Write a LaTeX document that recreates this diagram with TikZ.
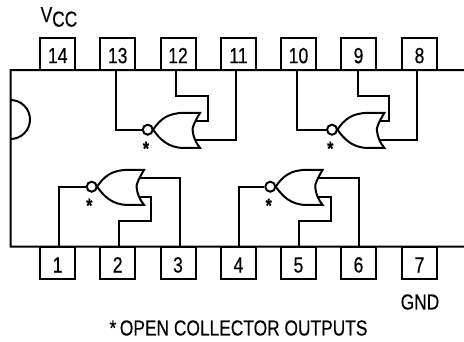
\documentclass[tikz,border=0pt]{standalone}
\usepackage{fontspec}
\setmainfont[FakeStretch=0.8,FakeBold=0.4]{Liberation Sans}
\usetikzlibrary{calc}
\tikzset{
  wire/.style={line width=2pt,line join=miter},
  pinbox/.style={draw,line width=2pt,fill=white,minimum width=35pt,minimum height=32pt,inner sep=0pt,text height=19pt,text depth=0pt,font=\fontsize{22}{22}\selectfont},
  bubble/.style={circle,draw,line width=2pt,minimum size=10pt,inner sep=0pt},
  star/.style={inner sep=0pt,font=\fontsize{20}{20}\bfseries\selectfont},
  caption/.style={inner sep=0pt,font=\fontsize{21.7}{22}\selectfont},
  norgate/.pic={
    \node[bubble] (-bub) at (0,0) {};
    \coordinate (-up) at (47,-9);
    \coordinate (-low) at (47,10.4);
    \draw[wire] (5.4,0) .. controls (12,-10) and (20,-16.8) .. (36,-16.8)
      -- (52.3,-16.8) .. controls (47,-8) and (44,-1) .. (45,1)
      .. controls (45.5,7) and (48,13) .. (52.3,18.2) -- (36,18.2)
      .. controls (20,18.2) and (12,9) .. cycle;
  }
}
\begin{document}
\begin{tikzpicture}[x=1pt,y=-1pt]
\useasboundingbox (0,0) rectangle (464,341);

\draw[wire] (464,70) -- (10.5,70) -- (10.5,139) arc[start angle=90,end angle=-90,radius=19.5] -- (10.5,246.7) -- (464,246.7);

\node[pinbox] (p14) at (57.7,53.7) {14};
\node[pinbox] (p13) at (117.7,53.7) {13};
\node[pinbox] (p12) at (178,53.7) {12};
\node[pinbox] (p11) at (238.5,53.7) {11};
\node[pinbox] (p10) at (298.5,53.7) {10};
\node[pinbox] (p9) at (358.5,53.7) {9};
\node[pinbox] (p8) at (419.5,53.7) {8};
\node[pinbox] (p1) at (57.7,263) {1};
\node[pinbox] (p2) at (117.7,263) {2};
\node[pinbox] (p3) at (178,263) {3};
\node[pinbox] (p4) at (238.5,263) {4};
\node[pinbox] (p5) at (298.5,263) {5};
\node[pinbox] (p6) at (358.5,263) {6};
\node[pinbox] (p7) at (419.5,263) {7};

\pic (ga) at (147.7,129.7) {norgate};
\pic (gb) at (332,129.7) {norgate};
\pic (gc) at (91.7,186.7) {norgate};
\pic (gd) at (270.3,186.7) {norgate};

\draw[wire] ([xshift=-2.2pt]p13.south) |- (ga-bub.west);
\draw[wire] ([xshift=-2.5pt]p12.south) |- (207.5,95.5) |- (ga-up);
\draw[wire] (ga-low) -| ([xshift=-2.3pt]p11.south);
\draw[wire] ([xshift=-1.2pt]p10.south) |- (gb-bub.west);
\draw[wire] ([xshift=-0.8pt]p9.south) |- (388.7,95.5) |- (gb-up);
\draw[wire] (gb-low) -| ([xshift=-2.2pt]p8.south);
\draw[wire] ([xshift=1.3pt]p1.north) |- (gc-bub.west);
\draw[wire] (gc-low) -| (150.7,221) -| ([xshift=1.3pt]p2.north);
\draw[wire] (gc-up) -| ([xshift=2pt]p3.north);
\draw[wire] ([xshift=0.2pt]p4.north) |- (gd-bub.west);
\draw[wire] (gd-low) -| (331,221) -| ([xshift=0.2pt]p5.north);
\draw[wire] (gd-up) -| ([xshift=0.8pt]p6.north);

\node[star] (sa) at (146,148.5) {*};
\node[star] (sb) at (330.3,148.5) {*};
\node[star] (sc) at (89.3,205.5) {*};
\node[star] (sd) at (268.7,205.5) {*};

\node[caption] (vcc) at (59,17) {V\raisebox{-4.5pt}{CC}};
\node[caption] (gnd) at (420,302) {GND};
\node[caption] (note) at (238.5,328) {*\,OPEN COLLECTOR OUTPUTS};
\end{tikzpicture}
\end{document}
